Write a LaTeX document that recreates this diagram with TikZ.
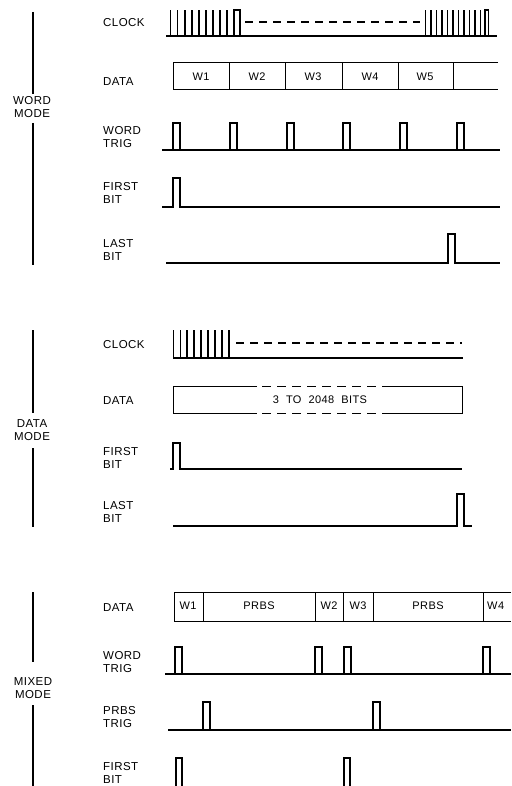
\documentclass[tikz,border=0pt]{standalone}
\usepackage{fontspec}
\setmainfont{Liberation Sans}
\newfontfamily\labfont[LetterSpace=4]{Liberation Sans}
\begin{document}
\begin{tikzpicture}[x=1pt,y=-1pt,
  lab/.style={anchor=west, font=\labfont\fontsize{11.5}{12.5}\selectfont, align=left, inner sep=0pt},
  mode/.style={anchor=center, font=\labfont\fontsize{11.5}{13.5}\selectfont, align=center, inner sep=0pt},
  word/.style={anchor=center, font=\labfont\fontsize{11}{12}\selectfont, inner sep=0pt},
  sig/.style={line width=1.1pt, line join=miter},
  tick/.style={line width=1.7pt},
  box/.style={line width=1pt},
  bar/.style={line width=1.8pt},
  dsh/.style={line width=1.1pt, dash pattern=on 8pt off 6pt}]
\useasboundingbox (0,0) rectangle (511,786);
\fill[white] (0,0) rectangle (511,786);

% ---------------- WORD MODE ----------------
\node[mode] (wm) at (32,107) {WORD\\MODE};
\draw[bar] (33,12) -- (33,94);
\draw[bar] (33,123) -- (33,265);

\node[lab] (wclk) at (103,23) {CLOCK};
\node[lab] (wdat) at (103,82) {DATA};
\node[lab] (wtrig) at (103,137) {WORD\\TRIG};
\node[lab] (wfb) at (103,193) {FIRST\\BIT};
\node[lab] (wlb) at (103,250) {LAST\\BIT};

% clock
\draw[sig] (166,36) -- (497,36);
\foreach \i in {0,...,8} {\draw[tick] ({170.5+7.1*\i},36) -- ({170.5+7.1*\i},10);}
\draw[sig] (234,36) -- (234,10) -- (240,10) -- (240,36);
\draw[dsh] (245,22) -- (420,22);
\foreach \i in {0,...,10} {\draw[tick] ({425.5+5.5*\i},36) -- ({425.5+5.5*\i},10);}
\draw[sig] (485,36) -- (485,10) -- (488.5,10) -- (488.5,36);

% data words
\draw[box] (498,63) -- (173,63) -- (173,90) -- (498,90);
\foreach \x in {229,285,342,398,453} {\draw[box] (\x,63) -- (\x,90);}
\node[word] (w1) at (201,77) {W1};
\node[word] (w2) at (257,77) {W2};
\node[word] (w3) at (313,77) {W3};
\node[word] (w4) at (370,77) {W4};
\node[word] (w5) at (425,77) {W5};

% word trig
\draw[sig] (162,150) -- (500,150);
\foreach \x in {173,230,287,343,400,457} {\draw[sig] (\x,150) -- (\x,123) -- (\x+7,123) -- (\x+7,150);}

% first bit
\draw[sig] (162,207) -- (173,207) -- (173,178) -- (180,178) -- (180,207) -- (500,207);
% last bit
\draw[sig] (166,263) -- (448,263) -- (448,234) -- (455,234) -- (455,263) -- (500,263);

% ---------------- DATA MODE ----------------
\node[mode] (dm) at (32,430) {DATA\\MODE};
\draw[bar] (33,330) -- (33,413);
\draw[bar] (33,448) -- (33,527);

\node[lab] (dclk) at (103,345) {CLOCK};
\node[lab] (ddat) at (103,401) {DATA};
\node[lab] (dfb) at (103,458) {FIRST\\BIT};
\node[lab] (dlb) at (103,512) {LAST\\BIT};

% clock
\draw[sig] (173,358) -- (463,358);
\foreach \i in {0,...,8} {\draw[tick] ({173.5+6.9*\i},358) -- ({173.5+6.9*\i},330);}
\draw[dsh] (236,343) -- (462,343);

% data block
\draw[box] (257,386) -- (173,386) -- (173,413) -- (257,413);
\draw[box] (383,386) -- (462,386) -- (462,413) -- (383,413);
\draw[box, dash pattern=on 9pt off 6pt] (262,386) -- (383,386);
\draw[box, dash pattern=on 9pt off 6pt] (262,413) -- (383,413);
\node[word] (bits) at (320,400) {3 \ TO \ 2048 \ BITS};

% first bit
\draw[sig] (170,469) -- (173,469) -- (173,443) -- (180,443) -- (180,469) -- (462,469);
% last bit
\draw[sig] (173,526) -- (457,526) -- (457,494) -- (464,494) -- (464,526) -- (472,526);

% ---------------- MIXED MODE ----------------
\node[mode] (mm) at (33,688) {MIXED\\MODE};
\draw[bar] (33,592) -- (33,662);
\draw[bar] (33,705) -- (33,786);

\node[lab] (mdat) at (103,608) {DATA};
\node[lab] (mtrig) at (103,662) {WORD\\TRIG};
\node[lab] (mptrig) at (103,717) {PRBS\\TRIG};
\node[lab] (mfb) at (103,773) {FIRST\\BIT};

% data
\draw[box] (511,592) -- (174,592) -- (174,621) -- (511,621);
\foreach \x in {203,315,343,373,483} {\draw[box] (\x,592) -- (\x,621);}
\node[word] (m1) at (188,606) {W1};
\node[word] (mp1) at (259,606) {PRBS};
\node[word] (m2) at (329,606) {W2};
\node[word] (m3) at (358,606) {W3};
\node[word] (mp2) at (428,606) {PRBS};
\node[word, anchor=west] (m4) at (487,606) {W4};

% word trig
\draw[sig] (165,674) -- (511,674);
\foreach \x in {175,315,344,483} {\draw[sig] (\x,674) -- (\x,647) -- (\x+7,647) -- (\x+7,674);}
% prbs trig
\draw[sig] (168,730) -- (511,730);
\foreach \x in {203,373} {\draw[sig] (\x,730) -- (\x,702) -- (\x+7,702) -- (\x+7,730);}
% first bit
\foreach \x in {176,344} {\draw[sig] (\x,790) -- (\x,758) -- (\x+6,758) -- (\x+6,790);}
\end{tikzpicture}
\end{document}
